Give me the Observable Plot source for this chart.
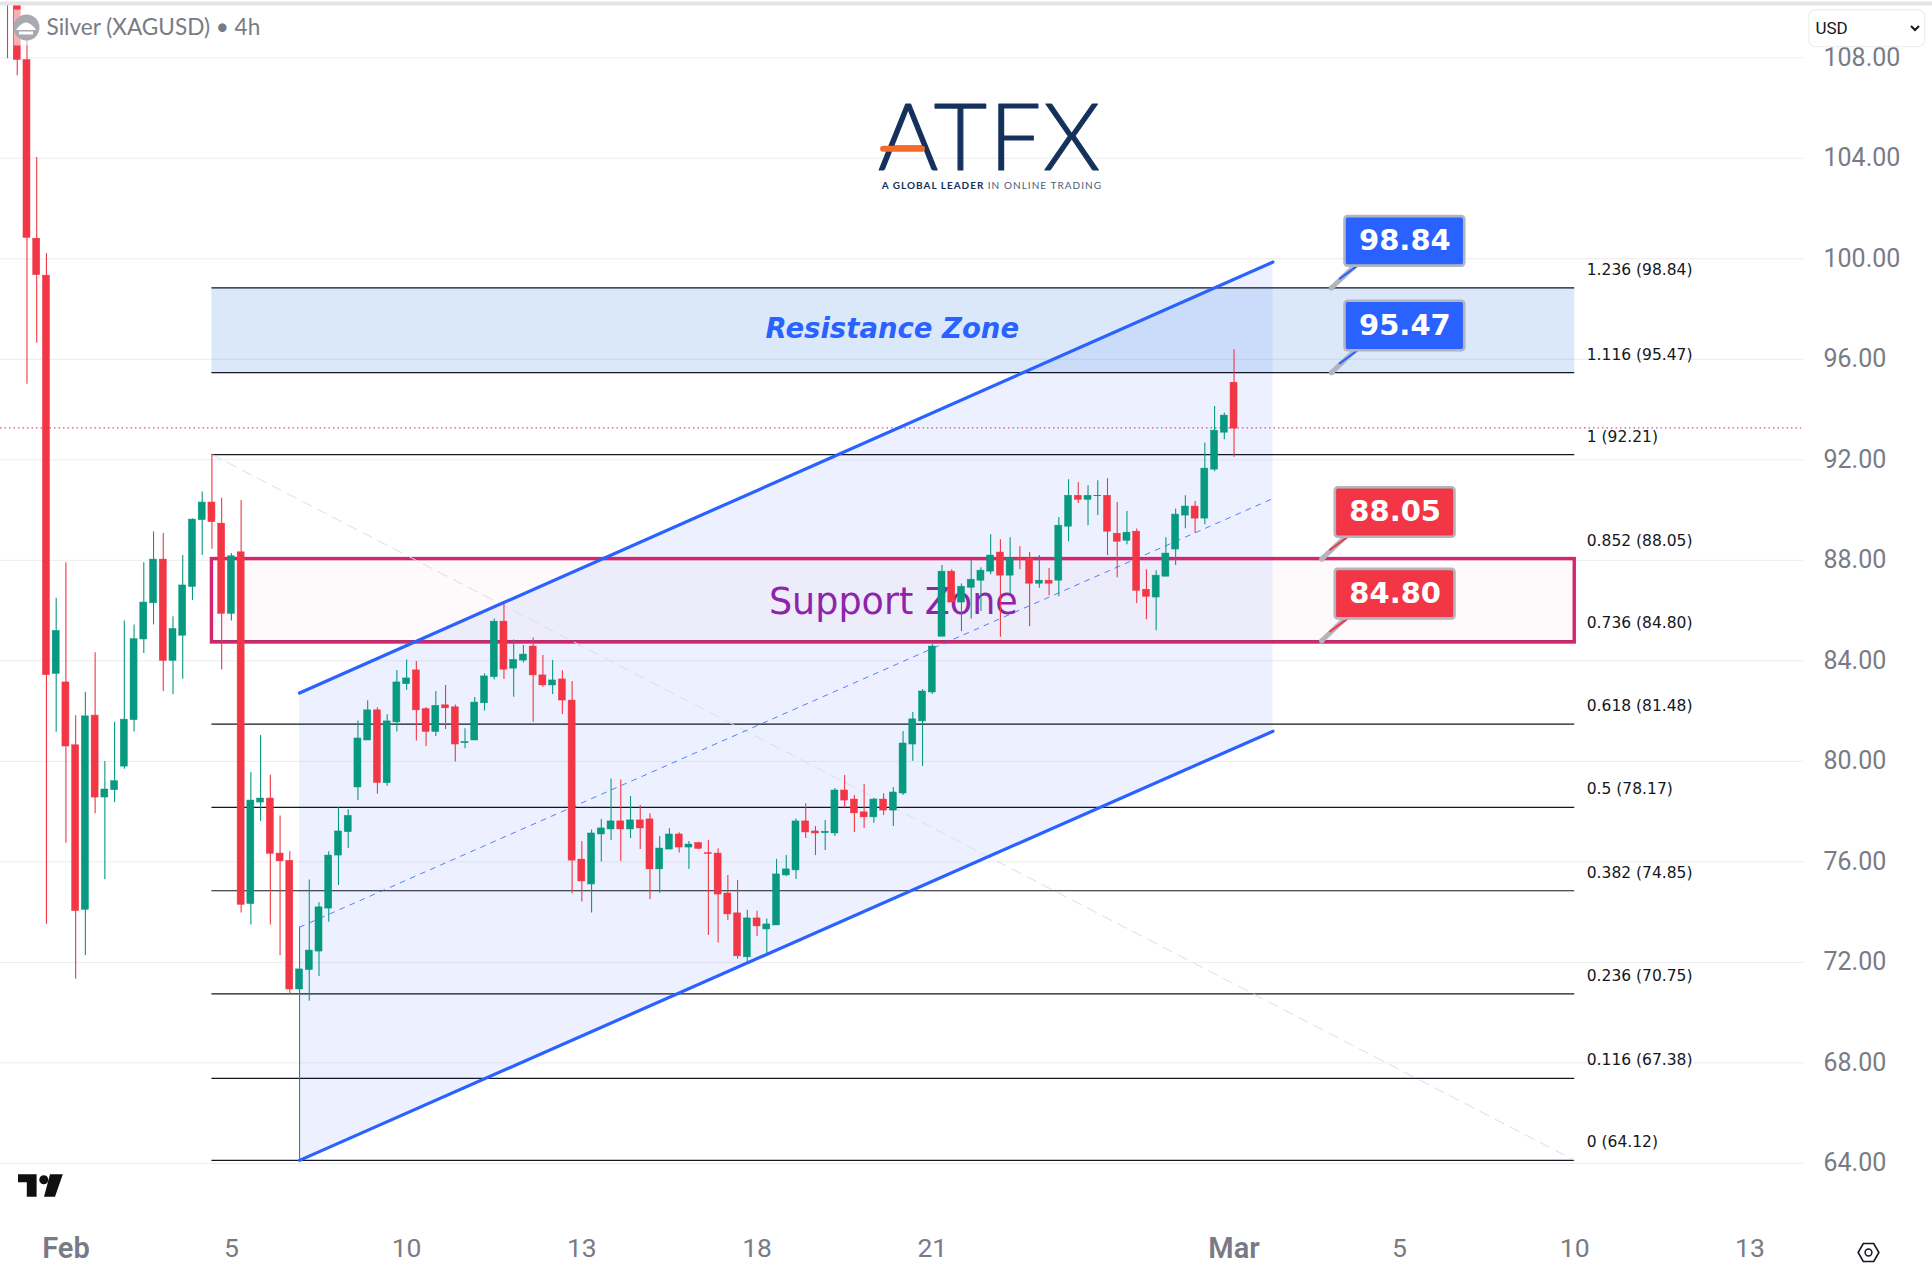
<!DOCTYPE html>
<html>
<head>
<meta charset="utf-8">
<script src="https://cdn.jsdelivr.net/npm/d3@7"></script>
<script src="https://cdn.jsdelivr.net/npm/@observablehq/plot@0.6"></script>
<style>
html,body{margin:0;padding:0;background:#fff;}
svg{display:block;}
.tag text{letter-spacing:1.05px;}
.tagb text{letter-spacing:1px;}
.logo text{letter-spacing:2px;}
</style>
</head>
<body>
<div id="chart"></div>
<script>
const opens=[112.0,110.4,107.91,100.80,99.33,83.48,83.14,80.64,74.09,81.82,78.56,78.85,79.79,81.64,84.85,86.29,88.03,84.00,85.00,86.94,89.60,90.30,89.46,85.87,88.32,74.32,78.36,78.52,76.33,76.04,70.92,71.69,72.43,74.14,76.25,77.18,78.96,80.83,82.03,79.13,81.55,83.07,83.62,82.08,81.17,82.23,82.15,80.72,80.83,82.31,83.35,85.56,83.69,84.01,84.57,83.42,83.02,83.26,82.42,76.09,75.10,77.09,77.29,77.61,77.29,77.65,77.69,75.70,76.49,77.09,76.57,76.75,76.35,76.33,74.74,73.95,72.20,73.75,73.31,73.47,75.46,75.66,77.61,77.21,77.14,77.13,78.84,78.48,77.97,77.77,78.48,78.04,78.72,80.67,81.59,82.74,84.96,87.55,86.32,86.91,87.19,87.55,88.31,87.39,88.07,88.07,87.07,87.19,87.19,89.34,90.57,90.41,90.55,90.57,89.06,88.78,89.14,86.83,86.52,87.35,88.43,89.78,90.14,89.66,91.61,93.08,95.07];
const highs=[113.0,110.6,108.7,104.03,100.21,86.49,87.90,81.81,82.75,84.32,79.99,81.56,85.59,85.43,87.90,89.13,89.07,85.75,88.19,89.65,90.72,92.22,90.47,88.27,90.38,79.56,81.03,79.45,77.83,76.40,73.40,75.28,74.37,76.40,78.15,78.07,81.61,82.41,82.13,81.85,83.62,84.03,83.97,82.13,82.78,83.02,82.24,81.30,82.54,83.48,85.67,86.27,84.83,84.61,84.91,84.21,84.01,83.61,83.18,76.81,77.27,77.69,79.30,79.26,78.60,78.24,77.91,77.01,77.32,77.16,76.81,76.78,76.85,76.52,75.46,75.26,74.07,74.03,73.73,76.10,76.25,77.71,78.31,77.41,77.65,78.92,79.44,78.64,79.08,78.53,78.71,78.96,81.19,81.94,82.86,84.65,87.79,87.63,87.06,87.99,87.70,89.02,88.82,88.90,88.54,88.31,88.19,87.67,89.70,91.21,91.09,90.97,91.17,91.25,90.30,89.94,89.25,87.63,87.59,88.90,90.04,90.57,90.34,92.67,94.12,93.86,96.38];
const lows=[107.96,107.28,95.01,96.64,73.52,81.16,76.74,71.33,72.27,77.91,75.29,78.35,79.69,81.17,84.29,85.43,82.78,82.65,83.27,86.40,88.19,88.44,83.64,85.59,73.96,73.49,77.61,73.49,72.26,70.71,64.12,70.45,71.44,73.60,75.06,76.53,78.44,80.83,78.69,79.01,81.17,82.83,80.81,80.59,80.99,81.27,79.97,80.50,80.83,82.00,83.24,83.26,82.55,83.91,81.56,82.95,82.66,81.86,74.73,74.40,73.96,75.99,76.85,76.01,76.93,76.49,74.50,74.75,76.49,76.35,75.70,76.48,73.07,72.77,73.67,72.12,72.01,73.03,72.30,73.47,75.42,75.30,76.93,76.25,76.45,77.01,78.14,77.17,77.33,77.54,77.85,77.41,78.64,80.00,79.80,82.66,84.96,86.32,85.16,85.67,85.96,87.43,84.94,86.66,87.63,85.36,86.89,86.59,86.55,88.74,90.26,89.38,89.78,88.19,87.31,88.62,86.28,85.64,85.20,87.35,87.79,89.26,89.08,89.42,91.53,92.80,92.10];
const closes=[110.9,107.91,100.83,99.35,83.43,85.19,80.59,74.04,81.79,78.56,78.88,79.21,81.66,84.86,86.32,88.03,84.00,85.27,87.00,89.62,90.30,89.52,85.87,88.16,74.29,78.44,78.52,76.32,76.02,70.92,71.72,72.47,74.19,76.25,77.21,77.83,80.91,82.03,79.14,81.59,83.14,83.30,82.03,81.17,82.21,82.11,80.67,80.77,82.34,83.38,85.56,83.65,84.04,84.25,83.42,83.02,83.22,82.42,76.05,75.22,77.13,77.33,77.61,77.29,77.65,77.33,75.70,76.53,77.09,76.57,76.69,76.52,76.31,74.70,73.91,72.24,73.75,73.43,73.51,75.50,75.70,77.61,77.17,77.13,77.20,78.84,78.44,77.93,77.77,78.48,78.04,78.76,80.71,81.67,82.78,84.57,87.55,86.32,86.95,87.23,87.59,88.19,87.39,88.07,88.03,87.07,87.19,87.07,89.38,90.57,90.41,90.57,90.57,89.14,88.74,89.10,86.79,86.55,87.39,88.27,89.82,90.14,89.66,91.65,93.16,93.76,93.24];

const yTicks=[64,68,72,76,80,84,88,92,96,100,104,108];
const xTickBars=[23,41,59,77,95,143,161,179];
const xTickLabels=["5","10","13","18","21","5","10","13"];
const xMonthBars=[6,126];
const xMonthLabels=["Feb","Mar"];

const fibRatios=["0","0.116","0.236","0.382","0.5","0.618","0.736","0.852","1","1.116","1.236"];
const fibPrices=[64.12,67.38,70.75,74.85,78.17,81.48,84.80,88.05,92.21,95.47,98.84];
const fibStart=21, fibEnd=161;

const channelBars=[30,130];
const channelUpper=[82.72,99.87];
const channelMiddle=[73.40,90.46];
const channelLower=[64.12,81.20];
const lastClose=93.27;

const calloutPrices=[98.84,95.47,88.05,84.80];
const calloutBars=[136,136,135,135];
const calloutColors=["#2962ff","#2962ff","#f23645","#f23645"];

const bars=opens.map((o,i)=>({i,o,h:highs[i],l:lows[i],c:closes[i],col:closes[i]>=o?"#089981":"#f23645"}));
const channel=channelBars.map((x,k)=>({x,u:channelUpper[k],m:channelMiddle[k],l:channelLower[k]}));
const callouts=calloutPrices.map((p,k)=>({p,b:calloutBars[k],col:calloutColors[k],label:p.toFixed(2)}));
const trend=[{x:fibStart,y:fibPrices[8]},{x:fibEnd,y:fibPrices[0]}];
const pair=(d)=>[d];
const GREY="#787b86";
const pathMark=(d,attrs)=>()=>{const p=d3.create("svg:path").attr("d",d);for(const k in attrs)p.attr(k,attrs[k]);return p.node();};

const chart=Plot.plot({
  width:1932,height:1280,
  marginLeft:0,marginRight:129,marginTop:3,marginBottom:67,
  style:{fontFamily:"Roboto, sans-serif",background:"#fff",overflow:"visible"},
  x:{domain:[-0.72,184.5]},
  y:{domain:[62.006,110.16]},
  marks:[
    Plot.ruleY(yTicks,{x1:()=>-0.72,x2:()=>184.5,stroke:"#ececef",strokeWidth:1}),
    Plot.axisY(yTicks,{anchor:"right",tickSize:0,tickPadding:20,tickFormat:d3.format(".2f"),fill:GREY,fontSize:25,label:null}),
    Plot.axisX(xTickBars,{anchor:"bottom",tickSize:0,tickPadding:25,tickFormat:d=>xTickLabels[xTickBars.indexOf(d)],fill:GREY,fontSize:26.5,label:null}),
    Plot.axisX(xMonthBars,{anchor:"bottom",tickSize:0,tickPadding:24,tickFormat:d=>xMonthLabels[xMonthBars.indexOf(d)],fill:GREY,fontSize:29,fontWeight:600,label:null}),
    // zone + channel fills
    Plot.areaY(channel,{x:"x",y1:"l",y2:"u",fill:"#2962ff",fillOpacity:0.085}),
    Plot.rect(pair(0),{x1:()=>fibStart,x2:()=>fibEnd,y1:()=>fibPrices[9],y2:()=>fibPrices[10],fill:"rgb(15,102,222)",fillOpacity:0.15}),
    // fib levels
    Plot.ruleY(fibPrices,{x1:()=>fibStart,x2:()=>fibEnd,stroke:"#131722",strokeWidth:1.2}),
    Plot.text(fibPrices,{x:()=>fibEnd,y:d=>d,text:(d,i)=>`${fibRatios[i]} (${d.toFixed(2)})`,textAnchor:"start",dx:12,dy:-18,fontSize:15.5,fontFamily:"DejaVu Sans",fill:"#131722"}),
    // support box
    Plot.rect(pair(0),{x1:()=>fibStart,x2:()=>fibEnd,y1:()=>84.73,y2:()=>fibPrices[7],fill:"#d81b60",fillOpacity:0.025,stroke:"#d6246e",strokeWidth:3.4}),
    // trend + midline
    Plot.line(trend,{x:"x",y:"y",stroke:"#dcdee4",strokeWidth:1,strokeDasharray:"10 7"}),
    Plot.line(channel,{x:"x",y:"m",stroke:"#2962ff",strokeWidth:1,strokeOpacity:0.8,strokeDasharray:"5 6"}),
    // zone texts
    Plot.text(["Resistance Zone"],{x:()=>90.9,y:()=>97.18,text:d=>d,fontFamily:"DejaVu Sans",fontStyle:"italic",fontSize:27.5,fontWeight:700,fill:"#2962ff"}),
    Plot.text(["Support Zone"],{x:()=>91.0,y:()=>86.34,text:d=>d,fontFamily:"DejaVu Sans",fontSize:36.5,fill:"#8e24aa"}),
    // price line
    Plot.ruleY([lastClose],{x1:()=>-0.72,x2:()=>184.3,stroke:"#d6246e",strokeWidth:1,strokeDasharray:"1.5 3"}),
    // candles
    Plot.ruleX(bars,{x:"i",y1:"l",y2:"h",stroke:"col",strokeWidth:1.1,clip:true}),
    Plot.rect(bars,{x1:d=>d.i-0.36,x2:d=>d.i+0.36,y1:"o",y2:"c",fill:"col",stroke:"col",strokeWidth:0.5,clip:true}),
    // channel lines
    Plot.line(channel,{x:"x",y:"u",stroke:"#2962ff",strokeWidth:3.2}),
    Plot.line(channel,{x:"x",y:"l",stroke:"#2962ff",strokeWidth:3.2}),
    // callouts
    Plot.link(callouts,{x1:"b",y1:"p",x2:d=>d.b+2.6,y2:d=>d.p+0.95,stroke:"#b2b5be",strokeWidth:5}),
    Plot.link(callouts,{x1:d=>d.b+0.8,y1:d=>d.p+0.35,x2:d=>d.b+2.9,y2:d=>d.p+0.95,stroke:"col",strokeWidth:2}),
    Plot.dot(callouts,{x:"b",y:"p",r:2.6,fill:"#b2b5be"}),
    Plot.rect(callouts,{x1:d=>d.b+1.4,x2:d=>d.b+13.7,y1:d=>d.p+0.87,y2:d=>d.p+2.84,fill:"col",stroke:"#b2b5be",strokeWidth:2.6,rx:3}),
    Plot.text(callouts,{x:d=>d.b+7.55,y:d=>d.p+1.87,text:"label",fill:"#fff",fontSize:29,fontWeight:700,fontFamily:"DejaVu Sans"}),
    // ATFX logo
    Plot.text(["ATFX"],{x:()=>100.95,y:()=>104.7,text:d=>d,fontFamily:"Lato",fontWeight:300,fontSize:92,fill:"#14315c",stroke:"#14315c",strokeWidth:1.2,strokeLinejoin:"round",className:"logo"}),
    Plot.ruleY([104.38],{x1:()=>90.0,x2:()=>94.0,stroke:"#f26b2b",strokeWidth:6,strokeLinecap:"round"}),
    Plot.text(["A GLOBAL LEADER"],{x:()=>89.8,y:()=>102.9,text:d=>d,textAnchor:"start",fontFamily:"Lato",fontWeight:700,fontSize:10,fill:"#14315c",className:"tagb"}),
    Plot.text(["IN ONLINE TRADING"],{x:()=>100.7,y:()=>102.9,text:d=>d,textAnchor:"start",fontFamily:"Lato",fontSize:10,fill:"#4b5d7c",className:"tag"}),
    // header
    Plot.rect(pair(0),{x1:()=>0.7,x2:()=>27,y1:()=>108.47,y2:()=>109.9,fill:"#fff",fillOpacity:0.6}),
    Plot.dot(pair(0),{frameAnchor:"top-left",dx:26,dy:24,r:13,fill:"#a9a9b0"}),
    pathMark("M16 30Q26 15 36 30Z M19 31.5h14v3h-14z",{fill:"#fff"}),
    Plot.text(["Silver (XAGUSD) • 4h"],{frameAnchor:"top-left",dx:46,dy:24,text:d=>d,textAnchor:"start",lineAnchor:"middle",fontFamily:"Lato",fontSize:22.6,fill:GREY}),
    Plot.ruleY([110.16],{x1:()=>-0.72,x2:()=>198,stroke:"#e4e4e6",strokeWidth:4}),
    // USD box
    Plot.rect(pair(0),{x1:()=>185.1,x2:()=>197.0,y1:()=>108.42,y2:()=>109.9,fill:"#fff",stroke:"#eceef2",strokeWidth:1.2,rx:7}),
    Plot.text(["USD"],{frameAnchor:"top-left",dx:1815,dy:25,text:d=>d,textAnchor:"start",lineAnchor:"middle",fontSize:17,fill:"#131722"}),
    pathMark("M1911 26l4 4 4-4",{fill:"none",stroke:"#131722","stroke-width":2}),
    // TradingView mark
    pathMark("M18 1174.3H36.6V1196.7H26.8V1182.3H18Z M50 1174.3H62.8L55 1196.7H44Z",{fill:"#0f0f0f"}),
    Plot.dot(pair(0),{frameAnchor:"top-left",dx:43.3,dy:1176.3,r:4.5,fill:"#0f0f0f"}),
    // settings gear
    Plot.dot(pair(0),{frameAnchor:"top-left",dx:1868,dy:1249,symbol:"hexagon",r:9,rotate:30,stroke:"#131722",strokeWidth:1.6,fill:"none"}),
    Plot.dot(pair(0),{frameAnchor:"top-left",dx:1868,dy:1249,r:3.4,stroke:"#131722",strokeWidth:1.5,fill:"none"})
  ]
});
document.getElementById("chart").appendChild(chart);
</script>
</body>
</html>
